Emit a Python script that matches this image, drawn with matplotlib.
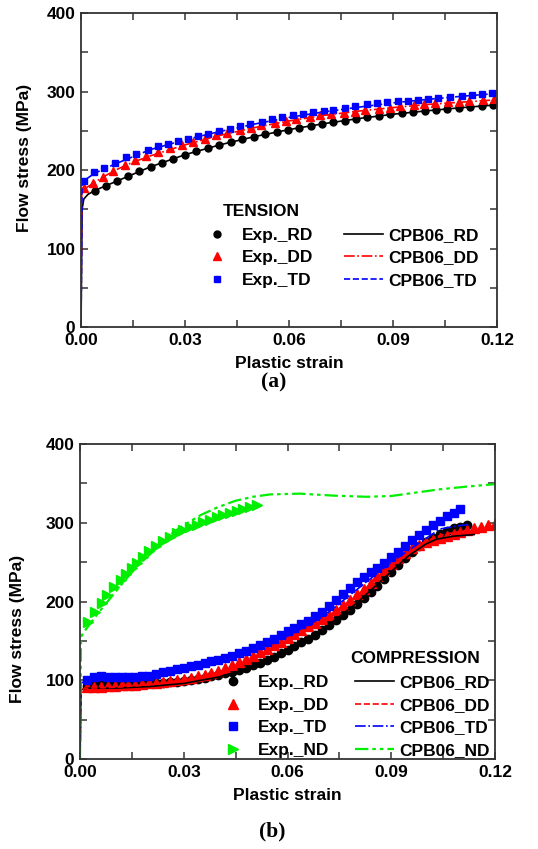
import matplotlib
matplotlib.use("Agg")
import matplotlib.pyplot as plt

plt.rcParams['font.family'] = ['Liberation Sans', 'DejaVu Sans']
plt.rcParams['font.weight'] = 'bold'

## ---- (a) tension data ----
t_rd_eps = [0.0040, 0.0071, 0.0104, 0.0136, 0.0167, 0.0201, 0.0234, 0.0266, 0.0299, 0.0333,
            0.0366, 0.0399, 0.0432, 0.0465, 0.0498, 0.0531, 0.0564, 0.0597, 0.0630, 0.0663,
            0.0695, 0.0728, 0.0761, 0.0793, 0.0826, 0.0860, 0.0891, 0.0925, 0.0959, 0.0991,
            0.1024, 0.1057, 0.1089, 0.1122, 0.1156, 0.1189]
t_rd_sig = [173.6, 179.6, 186, 192, 198.5, 204, 209, 214, 219.5, 224.5,
            228, 232, 236, 239, 242.4, 245.4, 248.8, 251, 254, 256.5,
            258.6, 261, 263, 265, 267, 268.8, 271, 272, 274, 275.5,
            276.4, 277.7, 279.4, 280.3, 281.5, 282.8]

t_dd_eps = [0.0009, 0.0035, 0.0063, 0.0092, 0.0126, 0.0157, 0.0188, 0.0222, 0.0256, 0.0290,
            0.0323, 0.0357, 0.0390, 0.0420, 0.0460, 0.0490, 0.0520, 0.0560, 0.0590, 0.0620,
            0.0660, 0.0690, 0.0720, 0.0760, 0.0790, 0.0820, 0.0860, 0.0890, 0.0920, 0.0960,
            0.0990, 0.1020, 0.1060, 0.1090, 0.1120, 0.1160, 0.1190]
t_dd_sig = [176.7, 183, 191.5, 199, 206, 213, 218, 223, 227.6, 232,
            236, 240, 244, 247.5, 251, 254, 257, 260, 262.5, 265,
            267.5, 269.5, 271.5, 273, 274.5, 276, 278, 279.5, 281, 282.5,
            284, 285, 286, 287, 288, 289, 290]

t_td_eps = [0.0009, 0.0038, 0.0066, 0.0097, 0.0130, 0.0160, 0.0193, 0.0222, 0.0251, 0.0280,
            0.0309, 0.0338, 0.0366, 0.0399, 0.0430, 0.0459, 0.0488, 0.0521, 0.0550, 0.0579,
            0.0612, 0.0641, 0.0670, 0.0700, 0.0728, 0.0762, 0.0790, 0.0824, 0.0853, 0.0884,
            0.0915, 0.0944, 0.0973, 0.1002, 0.1031, 0.1064, 0.1098, 0.1127, 0.1156, 0.1185]
t_td_sig = [186, 197, 202, 209, 216, 221, 226, 230, 233.5, 236.5,
            240, 243.5, 246.5, 249.5, 252.5, 255.5, 258.5, 261.5, 264.5, 267,
            269.5, 271.5, 273.5, 275.5, 277, 279.5, 281.5, 283.5, 285, 286.5,
            287.5, 288.5, 289.5, 290.5, 292, 293.4, 294.6, 295.5, 296.4, 297.7]

# CPB06 model curves (tension)
tm_rd_eps = [0, 0.0003, 0.0008, 0.002, 0.004, 0.0104, 0.02, 0.03, 0.04, 0.05, 0.06, 0.07, 0.08, 0.09, 0.10, 0.11, 0.12]
tm_rd_sig = [0, 150, 163, 169, 174, 186, 204, 219.5, 232, 242.5, 251.5, 259, 265.5, 271, 275.5, 279.5, 283]
tm_dd_eps = [0, 0.0002, 0.001, 0.0035, 0.0063, 0.01, 0.015, 0.02, 0.03, 0.04, 0.05, 0.06, 0.07, 0.08, 0.09, 0.10, 0.11, 0.12]
tm_dd_sig = [0, 170, 176, 183, 191, 200, 210, 218, 232, 244, 254, 262.5, 269.5, 275, 279.5, 283.5, 286.5, 289.5]
tm_td_eps = [0, 0.0003, 0.001, 0.004, 0.01, 0.02, 0.03, 0.04, 0.05, 0.06, 0.07, 0.08, 0.09, 0.10, 0.11, 0.12]
tm_td_sig = [0, 180, 187, 196, 208, 226, 238.5, 249, 258.5, 267, 274, 280, 285.5, 290, 294, 297.5]

## ---- (b) compression data ----
c_rd_eps = [0.002, 0.004, 0.006, 0.008, 0.010, 0.012, 0.014, 0.016, 0.018, 0.020,
            0.022, 0.024, 0.026, 0.028, 0.030, 0.032, 0.034, 0.036, 0.038, 0.040,
            0.042, 0.044, 0.046, 0.048, 0.050, 0.052, 0.054, 0.056, 0.058, 0.060,
            0.062, 0.064, 0.066, 0.068, 0.070, 0.072, 0.074, 0.076, 0.078, 0.080,
            0.082, 0.084, 0.086, 0.088, 0.090, 0.092, 0.094, 0.096, 0.098, 0.100,
            0.102, 0.104, 0.106, 0.108, 0.110, 0.112]
c_rd_sig = [93, 93.5, 94, 94, 94.5, 95, 95, 95.5, 96, 96,
            96.5, 97, 97.5, 98, 99, 100, 101.5, 103, 105, 107,
            109, 111, 113, 116, 119, 122.5, 126, 130, 134.5, 139,
            143, 148, 153, 158, 164, 170, 176, 182.5, 189.5, 197,
            204.5, 212, 220, 229, 238, 246.5, 255, 263, 270, 276,
            281, 286, 290, 293, 295, 297]

c_dd_eps = [0.002, 0.004, 0.006, 0.008, 0.010, 0.012, 0.014, 0.016, 0.018, 0.020,
            0.022, 0.024, 0.026, 0.028, 0.030, 0.032, 0.034, 0.036, 0.038, 0.040,
            0.042, 0.044, 0.046, 0.048, 0.050, 0.052, 0.054, 0.056, 0.058, 0.060,
            0.062, 0.064, 0.066, 0.068, 0.070, 0.072, 0.074, 0.076, 0.078, 0.080,
            0.082, 0.084, 0.086, 0.088, 0.090, 0.092, 0.094, 0.096, 0.098, 0.100,
            0.102, 0.104, 0.106, 0.108, 0.110, 0.112, 0.114, 0.116, 0.118, 0.120]
c_dd_sig = [91, 91.5, 92, 92.5, 93, 93.5, 94, 94.5, 95.5, 96,
            97, 98, 99, 100, 101, 103, 105, 107, 109.5, 112,
            115.5, 119, 123, 127, 131, 135.5, 140, 144.5, 149, 154,
            159, 164, 168.5, 173, 178, 183.5, 189, 195, 202, 209,
            216.5, 224, 232, 240, 248, 255, 262, 267.5, 272, 275,
            278, 281, 283.5, 286, 288, 290.5, 293, 295, 297, 299]

c_td_eps = [0.002, 0.004, 0.006, 0.008, 0.010, 0.012, 0.014, 0.016, 0.018, 0.020,
            0.022, 0.024, 0.026, 0.028, 0.030, 0.032, 0.034, 0.036, 0.038, 0.040,
            0.042, 0.044, 0.046, 0.048, 0.050, 0.052, 0.054, 0.056, 0.058, 0.060,
            0.062, 0.064, 0.066, 0.068, 0.070, 0.072, 0.074, 0.076, 0.078, 0.080,
            0.082, 0.084, 0.086, 0.088, 0.090, 0.092, 0.094, 0.096, 0.098, 0.100,
            0.102, 0.104, 0.106, 0.108, 0.110]
c_td_sig = [100, 104, 105, 104.5, 104, 104, 104, 104.5, 105, 106,
            108, 110, 112, 114, 116, 118, 120, 122, 124, 126,
            128.5, 131, 134, 137.5, 141, 145, 149, 153, 157.5, 162,
            166.5, 171, 175.5, 181, 187, 194.5, 202, 210, 217.5, 225,
            231, 237, 243, 249.5, 256, 263, 270.5, 277.5, 284.5, 291,
            297, 302.5, 308, 313, 318]

c_nd_eps = [0.0024, 0.0043, 0.0063, 0.0079, 0.0098, 0.0118, 0.0133, 0.0149, 0.0166, 0.0183,
            0.0200, 0.0220, 0.0241, 0.0260, 0.0280, 0.0299, 0.0318, 0.0337, 0.0357, 0.0376,
            0.0395, 0.0414, 0.0434, 0.0453, 0.0472, 0.0491, 0.0511]
c_nd_sig = [174, 187, 198, 208, 219, 227, 235, 242, 249, 257,
            264, 270.5, 277, 282, 286.6, 291, 294, 297.5, 301, 304,
            307, 310, 313, 315, 318, 320, 322]

# CPB06 model curves (compression)
cm_rd_eps = [0, 0.0003, 0.002, 0.01, 0.02, 0.03, 0.04, 0.05, 0.06, 0.07, 0.08, 0.09, 0.095, 0.10, 0.103, 0.108, 0.114]
cm_rd_sig = [0, 88, 90, 90, 92, 96, 104, 117, 138, 164, 198, 238, 258, 273, 279, 283, 285]
cm_dd_eps = [0, 0.0003, 0.002, 0.01, 0.02, 0.03, 0.04, 0.05, 0.06, 0.07, 0.08, 0.09, 0.095, 0.10, 0.105, 0.11, 0.12]
cm_dd_sig = [0, 88, 90, 91, 94, 100, 110, 126, 150, 176, 207, 245, 263, 277, 285, 289, 293]
cm_td_eps = [0, 0.0003, 0.005, 0.01, 0.02, 0.03, 0.04, 0.05, 0.06, 0.07, 0.08, 0.09, 0.095, 0.10, 0.104, 0.109, 0.1128]
cm_td_sig = [0, 97, 100, 101, 104, 112, 122, 136, 156, 180, 215, 250, 265, 280, 292, 296, 298]
cm_nd_eps = [0, 0.0003, 0.0009, 0.0052, 0.0091, 0.013, 0.0168, 0.020, 0.0231, 0.027, 0.030, 0.035, 0.040,
             0.045, 0.050, 0.055, 0.0636, 0.0732, 0.083, 0.090, 0.0974, 0.104, 0.112, 0.120]
cm_nd_sig = [0, 155, 160, 185, 206, 227, 246, 259, 272, 288, 297, 310, 320,
             328, 333, 336, 337, 334.5, 333, 334, 338.5, 342.5, 346, 349]

GREEN = '#00ee00'
DASHDOTDOT = (0, (6, 1.8, 1.6, 1.8, 1.6, 1.8))
FS = 12.5


def style_axes(ax, ylab_xy):
    ax.set_xlim(0, 0.12)
    ax.set_ylim(0, 400)
    ax.set_xticks([0, 0.03, 0.06, 0.09, 0.12])
    ax.set_xticklabels(['0.00', '0.03', '0.06', '0.09', '0.12'])
    ax.set_yticks([0, 100, 200, 300, 400])
    ax.set_xticks([0.015, 0.045, 0.075, 0.105], minor=True)
    ax.set_yticks([50, 150, 250, 350], minor=True)
    ax.tick_params(which='both', direction='in', top=True, right=True, width=1.1, color='#333333')
    ax.tick_params(which='major', length=5, labelsize=FS, pad=4)
    ax.tick_params(which='minor', length=5)
    for sp in ax.spines.values():
        sp.set_color('#333333')
        sp.set_linewidth(1.3)
    for lab in ax.get_xticklabels() + ax.get_yticklabels():
        lab.set_fontweight('bold')
    ax.set_xlabel('Plastic strain', fontsize=FS, fontweight='bold', labelpad=6)
    ax.set_ylabel('Flow stress (MPa)', fontsize=FS, fontweight='bold')
    ax.yaxis.set_label_coords(*ylab_xy)


fig = plt.figure(figsize=(5.38, 8.49), dpi=100)

## (a) tension
ax1 = fig.add_axes([0.1506, 0.6148, 0.7732, 0.3699])
ax1.plot(t_rd_eps, t_rd_sig, 'o', color='black', ms=5, ls='none', label='Exp._RD')
ax1.plot(t_dd_eps, t_dd_sig, '^', color='red', ms=6, ls='none', label='Exp._DD')
ax1.plot(t_td_eps, t_td_sig, 's', color='blue', ms=5, ls='none', label='Exp._TD')
ax1.plot(tm_rd_eps, tm_rd_sig, '-', color='black', lw=1.2, label='CPB06_RD')
ax1.plot(tm_dd_eps, tm_dd_sig, '-.', color='red', lw=1.2, label='CPB06_DD')
ax1.plot(tm_td_eps, tm_td_sig, '--', color='blue', lw=1.2, label='CPB06_TD')
style_axes(ax1, (-0.118, 0.538))
ax1.text(0.341, 0.368, 'TENSION', transform=ax1.transAxes, fontsize=FS, fontweight='bold', va='center')
ax1.legend(loc='upper left', bbox_to_anchor=(0.28, 0.316), ncol=2, frameon=False,
           prop={'size': FS, 'weight': 'bold'}, handlelength=2.2, handletextpad=0.35,
           columnspacing=1.8, labelspacing=0.42, borderpad=0, borderaxespad=0)

## (b) compression
ax2 = fig.add_axes([0.1487, 0.1060, 0.7714, 0.3710])
ax2.plot(c_rd_eps, c_rd_sig, 'o', color='black', ms=6, ls='none', label='Exp._RD')
ax2.plot(c_dd_eps, c_dd_sig, '^', color='red', ms=7, ls='none', label='Exp._DD')
ax2.plot(c_td_eps, c_td_sig, 's', color='blue', ms=5.5, ls='none', label='Exp._TD')
ax2.plot(c_nd_eps, c_nd_sig, '>', color=GREEN, ms=7, ls='none', label='Exp._ND')
ax2.plot(cm_rd_eps, cm_rd_sig, '-', color='black', lw=1.2, label='CPB06_RD')
ax2.plot(cm_dd_eps, cm_dd_sig, '--', color='red', lw=1.2, label='CPB06_DD')
ax2.plot(cm_td_eps, cm_td_sig, '-.', color='blue', lw=1.2, label='CPB06_TD')
ax2.plot(cm_nd_eps, cm_nd_sig, color=GREEN, ls=DASHDOTDOT, lw=1.6, label='CPB06_ND')
style_axes(ax2, (-0.133, 0.413))
ax2.text(0.651, 0.32, 'COMPRESSION', transform=ax2.transAxes, fontsize=FS, fontweight='bold', va='center')
ax2.legend(loc='upper left', bbox_to_anchor=(0.322, 0.266), ncol=2, frameon=False,
           prop={'size': FS, 'weight': 'bold'}, handlelength=2.2, handletextpad=0.35,
           columnspacing=1.5, labelspacing=0.42, borderpad=0, borderaxespad=0)

fig.text(0.508, 1 - 382 / 849, '(a)', fontsize=15.5, fontweight='bold',
         family=['Liberation Serif', 'DejaVu Serif'], ha='center', va='center')
fig.text(0.506, 1 - 831 / 849, '(b)', fontsize=15.5, fontweight='bold',
         family=['Liberation Serif', 'DejaVu Serif'], ha='center', va='center')

fig.savefig('out.png', dpi=100)
